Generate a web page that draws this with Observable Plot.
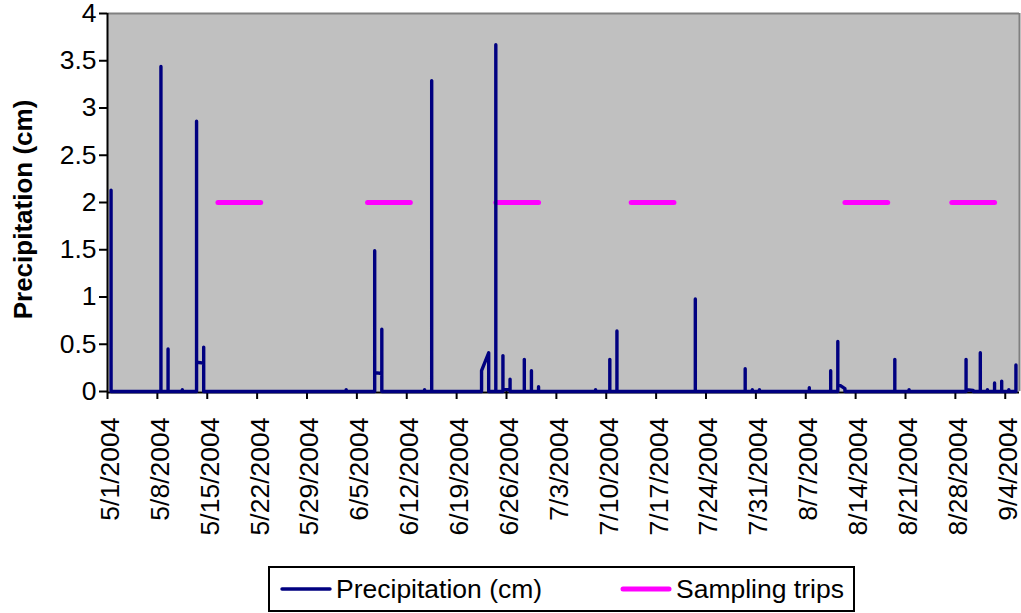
<!DOCTYPE html>
<html>
<head>
<meta charset="utf-8">
<script src="https://cdn.jsdelivr.net/npm/d3@7"></script>
<script src="https://cdn.jsdelivr.net/npm/@observablehq/plot@0.6"></script>
<style>
  body { margin: 0; background: white; font-family: Arial, "Liberation Sans", sans-serif; }
  #legend { box-sizing: border-box; margin: 4px 0 0 268px; width: 587px; height: 46px; border: 2px solid black;
            position: relative; font-size: 26.5px; color: black; }
  #legend .item { position: absolute; top: 0; height: 42px; display: flex; align-items: center; }
  #legend svg { margin-right: 4px; }
</style>
</head>
<body>
<div id="chart"></div>
<script>
// ---- data ----
const rainDates = [
  "2004-05-01","2004-05-08","2004-05-09","2004-05-11","2004-05-13","2004-05-14",
  "2004-06-03","2004-06-07","2004-06-08","2004-06-14","2004-06-15","2004-06-22",
  "2004-06-23","2004-06-24","2004-06-25","2004-06-26","2004-06-28","2004-06-29",
  "2004-06-30","2004-07-08","2004-07-10","2004-07-11","2004-07-22","2004-07-29",
  "2004-07-30","2004-07-31","2004-08-07","2004-08-10","2004-08-11","2004-08-12",
  "2004-08-19","2004-08-21","2004-08-29","2004-08-30","2004-08-31","2004-09-01",
  "2004-09-02","2004-09-03","2004-09-04","2004-09-05"
];
// readings within each day, in order (all plotted at that day's position)
const rainReadings = [
  [0, 2.13, 0], [0, 3.44, 0], [0, 0.45, 0], [0, 0.02, 0], [0, 2.86, 0.31], [0.3, 0.47, 0],
  [0, 0.02, 0], [0, 1.49, 0.2], [0.19, 0.66, 0], [0, 0.02, 0], [0, 3.29, 0], [0, 0.22],
  [0.41, 0], [0, 3.67, 0], [0, 0.38, 0.02], [0.02, 0.13, 0], [0, 0.34, 0], [0, 0.22, 0],
  [0, 0.05, 0], [0, 0.02, 0], [0, 0.34, 0], [0, 0.64, 0], [0, 0.98, 0], [0, 0.24, 0],
  [0, 0.02, 0], [0, 0.02, 0], [0, 0.04, 0], [0, 0.22, 0], [0, 0.53, 0.08], [0.03, 0],
  [0, 0.34, 0], [0, 0.02, 0], [0, 0.34, 0.02], [0.01, 0], [0, 0.41, 0], [0, 0.02, 0],
  [0, 0.09, 0], [0, 0.11, 0], [0, 0.02, 0], [0, 0.28, 0]
];
const tripStarts = ["2004-05-16","2004-06-06","2004-06-24","2004-07-13","2004-08-12","2004-08-27"];
const tripEnds   = ["2004-05-22","2004-06-12","2004-06-30","2004-07-19","2004-08-18","2004-09-02"];
const tripLevel = 2;

const xTickDates = [
  "2004-05-01","2004-05-08","2004-05-15","2004-05-22","2004-05-29","2004-06-05","2004-06-12",
  "2004-06-19","2004-06-26","2004-07-03","2004-07-10","2004-07-17","2004-07-24","2004-07-31",
  "2004-08-07","2004-08-14","2004-08-21","2004-08-28","2004-09-04"
];
const xTickLabels = [
  "5/1/2004","5/8/2004","5/15/2004","5/22/2004","5/29/2004","6/5/2004","6/12/2004",
  "6/19/2004","6/26/2004","7/3/2004","7/10/2004","7/17/2004","7/24/2004","7/31/2004",
  "8/7/2004","8/14/2004","8/21/2004","8/28/2004","9/4/2004"
];
const yTicks = [0, 0.5, 1, 1.5, 2, 2.5, 3, 3.5, 4];
const yTickLabels = ["0", "0.5", "1", "1.5", "2", "2.5", "3", "3.5", "4"];
const xDomain = ["2004-05-01", "2004-09-06"];
const yDomain = [0, 4];
const yTitle = "Precipitation (cm)";
const seriesNames = ["Precipitation (cm)", "Sampling trips"];
const colors = {rain: "#000080", trips: "#FF00FF", plotBg: "#C0C0C0", border: "#808080"};

// ---- build tables ----
const midnight = s => new Date(s + "T00:00:00Z");
const noon = s => new Date(s + "T12:00:00Z");
const rainPts = rainDates.flatMap((d, i) => rainReadings[i].map(v => ({date: noon(d), value: v})));
const tripPts = tripStarts.flatMap((s, i) => [
  {date: noon(s), value: tripLevel, trip: i},
  {date: noon(tripEnds[i]), value: tripLevel, trip: i}
]);
const xStart = midnight(xDomain[0]), xEnd = midnight(xDomain[1]);
const tickDates = xTickDates.map(midnight);
const labelByTime = new Map(tickDates.map((d, i) => [+d, xTickLabels[i]]));
const yLabelByVal = new Map(yTicks.map((v, i) => [v, yTickLabels[i]]));

const FS = 26.5;
const chart = Plot.plot({
  width: 1021,
  height: 562,
  marginLeft: 107,
  marginRight: 2,
  marginTop: 13,
  marginBottom: 171,
  style: {fontFamily: "Arial, 'Liberation Sans', sans-serif", fontSize: FS + "px", background: "white", color: "black", overflow: "visible"},
  x: {type: "utc", domain: [xStart, xEnd]},
  y: {domain: yDomain},
  marks: [
    Plot.frame({fill: colors.plotBg, stroke: "none"}),
    Plot.ruleY([yDomain[1]], {stroke: colors.border, strokeWidth: 2}),
    Plot.ruleX([xEnd], {stroke: colors.border, strokeWidth: 2}),
    Plot.ruleX([xStart], {stroke: "black", strokeWidth: 2}),
    Plot.ruleY([yDomain[0]], {stroke: "black", strokeWidth: 2, dy: 1}),
    Plot.axisY(yTicks, {tickSize: 8, tickPadding: 3, strokeWidth: 2, fontSize: FS, label: null,
      tickFormat: v => yLabelByVal.get(v)}),
    Plot.axisX(tickDates, {tickSize: 8, strokeWidth: 2, label: null, tickFormat: () => ""}),
    Plot.axisX(tickDates, {tickSize: 0, tickPadding: 26, tickRotate: -90, dx: 3, fontSize: FS, label: null,
      tickFormat: d => labelByTime.get(+d)}),
    Plot.line(tripPts, {x: "date", y: "value", z: "trip", stroke: colors.trips, strokeWidth: 5,
      strokeLinecap: "round"}),
    Plot.line(rainPts, {x: "date", y: "value", stroke: colors.rain, strokeWidth: 3.4,
      strokeLinecap: "round", strokeLinejoin: "round"}),
    Plot.text([yTitle], {frameAnchor: "left", textAnchor: "middle", dx: -84, dy: 7, rotate: -90,
      fontWeight: "bold", fontSize: 26})
  ]
});
document.getElementById("chart").appendChild(chart);

// legend (HTML, below the SVG)
const legend = document.createElement("div");
legend.id = "legend";
legend.innerHTML = `
  <div class="item" style="left:10px"><svg width="52" height="8"><line x1="2" x2="50" y1="4" y2="4" stroke="${colors.rain}" stroke-width="3.4" stroke-linecap="round"/></svg><span>${seriesNames[0]}</span></div>
  <div class="item" style="left:350px"><svg width="52" height="8"><line x1="3" x2="49" y1="4" y2="4" stroke="${colors.trips}" stroke-width="5" stroke-linecap="round"/></svg><span>${seriesNames[1]}</span></div>`;
document.body.appendChild(legend);
</script>
</body>
</html>
